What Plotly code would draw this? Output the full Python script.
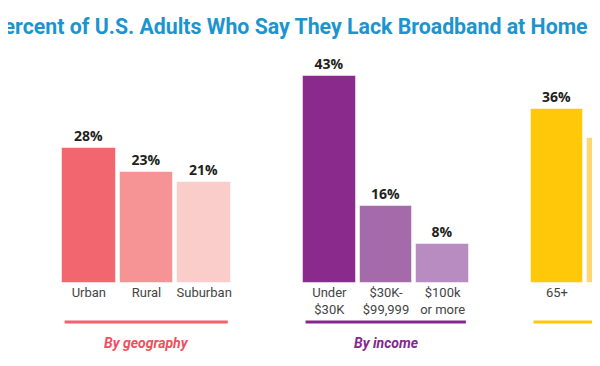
import plotly.graph_objects as go

# ---- data ----
title_text = "Percent of U.S. Adults Who Say They Lack Broadband at Home"
geo_labels = ["Urban", "Rural", "Suburban"]
geo_values = [28, 23, 21]
income_labels = ["Under<br>$30K", "$30K-<br>$99,999", "$100k<br>or more"]
income_values = [43, 16, 8]
age_labels = ["65+", "18-29"]
age_values = [36, 30]
group_titles = ["By geography", "By income", None]

# ---- style ----
W, H = 600, 366
OFF = 8  # page body margin offset of the figure inside the window
geo_colors = ["#f26670", "#f59395", "#fbcdca"]
income_colors = ["#8a2a8c", "#a46aaa", "#b88bc1"]
age_colors = ["#ffc90a", "#ffd672"]
group_line_colors = ["#f0636f", "#86288b", "#ffc80a"]
group_title_colors = ["#ee4f5e", "#86288b", "#ffc80a"]
# group extents in window pixels
dom_px = [(60, 233), (301, 471), (529, 608)]
pitch_px = [57.67, 56.67, 56.0]
domains = [[(a - OFF) / W, min((b - OFF) / W, 1.0)] for a, b in dom_px]
xranges = [[-0.5, -0.5 + (b - a) / p] for (a, b), p in zip(dom_px, pitch_px)]
px_per_unit = 4.82
base_px = 283 - OFF
yrange = [-(H - base_px) / px_per_unit, base_px / px_per_unit]
label_font = "Roboto, Liberation Sans, sans-serif"

groups = [
    (geo_labels, geo_values, geo_colors),
    (income_labels, income_values, income_colors),
    (age_labels, age_values, age_colors),
]

fig = go.Figure()
for gi, (labels, values, colors) in enumerate(groups):
    sfx = "" if gi == 0 else str(gi + 1)
    xs = list(range(len(values)))
    fig.add_trace(go.Bar(
        x=xs, y=values, width=0.93,
        marker=dict(color=colors, line=dict(color="rgba(255,255,255,0.5)", width=1)),
        texttemplate="%{y}%", textposition="outside", cliponaxis=False,
        textfont=dict(family="Open Sans, sans-serif", size=14, color="#231f20", weight="bold"),
        xaxis="x" + sfx, yaxis="y" + sfx, hoverinfo="skip", showlegend=False,
    ))
    fig.add_trace(go.Scatter(
        x=xs, y=[-0.9] * len(xs), mode="text", text=labels,
        textposition="bottom center", cliponaxis=False,
        textfont=dict(family=label_font, size=13, color="#444444"),
        xaxis="x" + sfx, yaxis="y" + sfx, hoverinfo="skip", showlegend=False,
    ))
    xref = "x" + sfx
    yref = "y" + sfx
    fig.add_shape(type="line", xref=xref, yref=yref, x0=-0.42, x1=2.41, y0=-8.1, y1=-8.1,
                  line=dict(color=group_line_colors[gi], width=3))
    if group_titles[gi]:
        fig.add_annotation(xref=xref, yref=yref, x=1, y=-12.4, text="<b><i>%s</i></b>" % group_titles[gi],
                           showarrow=False, font=dict(family=label_font, size=14, color=group_title_colors[gi]))
    fig.update_layout(**{
        "xaxis" + sfx: dict(domain=domains[gi], range=xranges[gi], visible=False, anchor="y" + sfx, fixedrange=True),
        "yaxis" + sfx: dict(range=yrange, visible=False, anchor="x" + sfx, fixedrange=True),
    })

fig.add_annotation(xref="paper", yref="paper", x=(590 - OFF) / W, y=1 - (27 - OFF) / H,
                   xanchor="right", yanchor="middle",
                   text="<b>%s</b>" % title_text, showarrow=False,
                   font=dict(family="Roboto, sans-serif", size=21.3, color="#1b95cf"))

fig.update_layout(
    width=W, height=H,
    margin=dict(l=0, r=0, t=0, b=0),
    paper_bgcolor="white", plot_bgcolor="white",
    bargap=0,
)
fig.write_html("out.html")
